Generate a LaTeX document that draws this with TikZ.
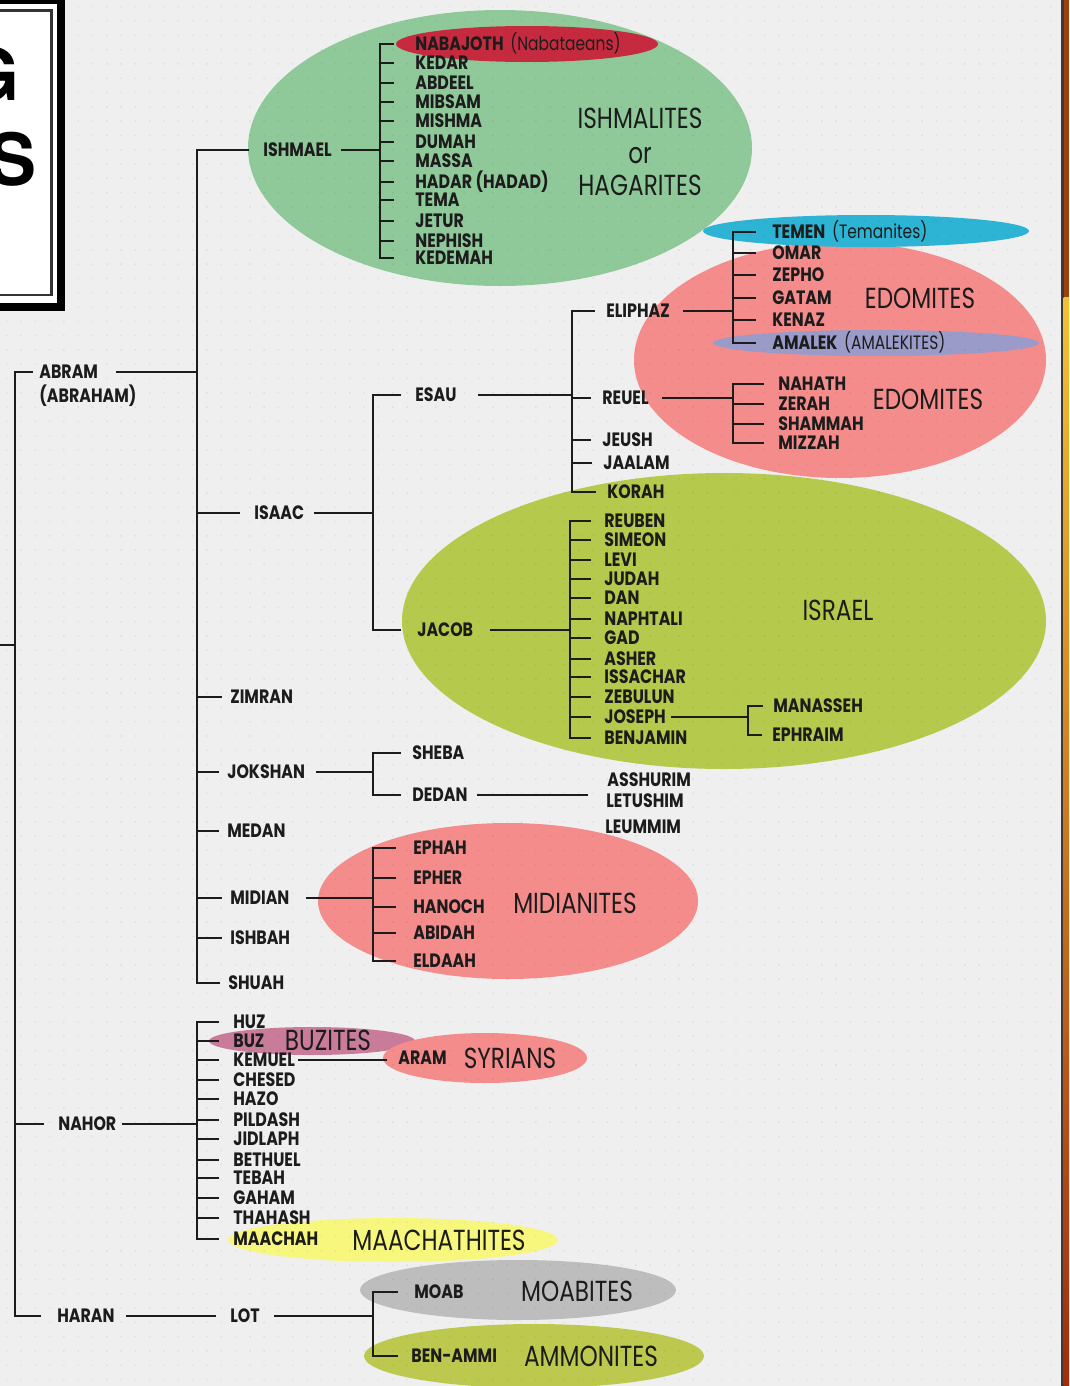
\documentclass[tikz,border=0pt]{standalone}
\usepackage{fontspec}
\newfontfamily\nmfont[FakeStretch=0.82]{Poppins}
\newfontfamily\bgfont[FakeStretch=0.8]{Poppins}
\newfontfamily\ttlfont{TeX Gyre Heros}
\definecolor{bg}{RGB}{239,239,239}
\definecolor{ink}{RGB}{28,28,28}
\definecolor{grnI}{RGB}{143,201,154}
\definecolor{nabred}{RGB}{198,42,63}
\definecolor{cyanT}{RGB}{45,179,211}
\definecolor{pinkE}{RGB}{245,140,140}
\definecolor{purpA}{RGB}{155,155,201}
\definecolor{olvI}{RGB}{181,201,76}
\definecolor{buzc}{RGB}{201,124,153}
\definecolor{yelM}{RGB}{247,247,125}
\definecolor{grayM}{RGB}{189,189,189}
\definecolor{olvA}{RGB}{188,201,78}
\definecolor{edgeD}{RGB}{58,58,58}
\definecolor{brn}{RGB}{156,66,10}
\definecolor{yel}{RGB}{242,194,50}
\definecolor{org}{RGB}{217,130,30}
\definecolor{rdb}{RGB}{163,43,12}
\begin{document}
\begin{tikzpicture}[x=0.02cm,y=-0.02cm,
  ln/.style={line width=1.1pt,draw=ink,line cap=rect},
  nm/.style={font=\nmfont\bfseries\fontsize{11}{13}\selectfont,inner sep=0pt,anchor=west,text height=7.7pt,text depth=0pt,text=ink},
  thin/.style={font=\bgfont\fontsize{11}{13}\selectfont,inner sep=0pt,anchor=west,text height=7.7pt,text depth=0pt,text=ink},
  big/.style={font=\bgfont\fontsize{16.5}{18}\selectfont,inner sep=0pt,text height=11.5pt,text depth=0pt,text=ink},
  ttl/.style={font=\ttlfont\bfseries\fontsize{41}{41}\selectfont,inner sep=0pt,anchor=base east,text=black}]
\useasboundingbox (0,0) rectangle (1069,1386);
\fill[bg] (0,0) rectangle (1069,1386);

% ellipses
\fill[grnI] (500,148) ellipse [x radius=252, y radius=138];
\fill[nabred] (527,44) ellipse [x radius=131, y radius=18];
\fill[olvI] (724,621) ellipse [x radius=322, y radius=148];
\fill[pinkE] (840,360) ellipse [x radius=206, y radius=118];
\fill[cyanT] (866,231) ellipse [x radius=163, y radius=16];
\fill[purpA] (876,343) ellipse [x radius=163, y radius=13];
\fill[pinkE] (508,901) ellipse [x radius=190, y radius=78];
\fill[buzc] (312,1041) ellipse [x radius=103, y radius=14];
\fill[pinkE] (485,1058) ellipse [x radius=102, y radius=25];
\fill[yelM] (393,1240) ellipse [x radius=165, y radius=22];
\fill[grayM] (518,1290) ellipse [x radius=158, y radius=30];
\fill[olvA] (534,1356) ellipse [x radius=170, y radius=32];

% dotted texture (one path per column)
\foreach \i in {0,...,73} {
  \fill[black,opacity=0.07] \foreach \j in {0,...,96} {(6+\i*14.3,6+\j*14.3) rectangle ++(1.4,1.4)};
}

% title box
\fill[white] (-60,-10) rectangle (61,307);
\draw[line width=1.5pt,draw=black!80] (-60,10.5) rectangle (51.5,295);
\draw[line width=4.5pt,draw=black] (-60,0) rectangle (61,307);
\node[ttl] (tg) at (20,100) {G};
\node[ttl] (ts) at (37,185) {S};

% right edge
\fill[edgeD] (1061,0) rectangle (1063.5,1386);
\fill[brn] (1063.5,0) rectangle (1069,297);
\shade[top color=yel,middle color=org,bottom color=rdb] (1063.5,297) rectangle (1069,1386);

% first generations
\node[nm] (abram) at (39,372) {ABRAM};
\node[nm] (abramb) at (39,396) {(ABRAHAM)};
\node[nm] (nahor) at (58,1124) {NAHOR};
\node[nm] (haran) at (57,1316) {HARAN};

\node[nm] (ishmael) at (263,150) {ISHMAEL};
\node[nm] (isaac) at (254,513) {ISAAC};
\node[nm] (zimran) at (230,697) {ZIMRAN};
\node[nm] (jokshan) at (227,772) {JOKSHAN};
\node[nm] (medan) at (227,831) {MEDAN};
\node[nm] (midian) at (230,898) {MIDIAN};
\node[nm] (ishbah) at (230,938) {ISHBAH};
\node[nm] (shuah) at (228,983) {SHUAH};

% Ishmael's sons
\foreach \n/\y/\t in {nabajoth/44/NABAJOTH,kedar/63/KEDAR,abdeel/83/ABDEEL,mibsam/102/MIBSAM,mishma/121/MISHMA,dumah/142/DUMAH,massa/161/MASSA,hadar/182/HADAR (HADAD),tema/200/TEMA,jetur/221/JETUR,nephish/241/NEPHISH,kedemah/258/KEDEMAH}
  \node[nm] (\n) at (415,\y) {\t};
\node[thin] (nabt) at ([xshift=3.4pt]nabajoth.east) {(Nabataeans)};
\node[big] (ishmalites) at (640,118) {ISHMALITES};
\node[big] (orw) at (640,153) {or};
\node[big] (hagarites) at (640,185) {HAGARITES};

% Isaac's line
\node[nm] (esau) at (415,395) {ESAU};
\node[nm] (jacob) at (417,630) {JACOB};
\node[nm] (eliphaz) at (606,311) {ELIPHAZ};
\node[nm] (reuel) at (602,398) {REUEL};
\node[nm] (jeush) at (602,440) {JEUSH};
\node[nm] (jaalam) at (603,463) {JAALAM};
\node[nm] (korah) at (607,492) {KORAH};
\foreach \n/\y/\t in {temen/232/TEMEN,omar/253/OMAR,zepho/275/ZEPHO,gatam/298/GATAM,kenaz/320/KENAZ,amalek/343/AMALEK}
  \node[nm] (\n) at (772,\y) {\t};
\node[thin] (temt) at ([xshift=3.4pt]temen.east) {(Temanites)};
\node[thin] (amat) at ([xshift=3.4pt]amalek.east) {(AMALEKITES)};
\node[big] (edom1) at (920,298) {EDOMITES};
\foreach \n/\y/\t in {nahath/384/NAHATH,zerah/404/ZERAH,shammah/424/SHAMMAH,mizzah/443/MIZZAH}
  \node[nm] (\n) at (778,\y) {\t};
\node[big] (edom2) at (928,399) {EDOMITES};
\foreach \n/\y/\t in {reuben/521/REUBEN,simeon/540/SIMEON,levi/560/LEVI,judah/579/JUDAH,dan/598/DAN,naphtali/619/NAPHTALI,gad/638/GAD,asher/659/ASHER,issachar/677/ISSACHAR,zebulun/697/ZEBULUN,joseph/717/JOSEPH,benjamin/738/BENJAMIN}
  \node[nm] (\n) at (604,\y) {\t};
\node[big] (israel) at (838,610) {ISRAEL};
\node[nm] (manasseh) at (773,706) {MANASSEH};
\node[nm] (ephraim) at (772,735) {EPHRAIM};

% Jokshan, Midian
\node[nm] (sheba) at (412,753) {SHEBA};
\node[nm] (dedan) at (412,795) {DEDAN};
\node[nm] (asshurim) at (607,780) {ASSHURIM};
\node[nm] (letushim) at (606,801) {LETUSHIM};
\node[nm] (leummim) at (605,827) {LEUMMIM};
\foreach \n/\y/\t in {ephah/848/EPHAH,epher/878/EPHER,hanoch/907/HANOCH,abidah/933/ABIDAH,eldaah/961/ELDAAH}
  \node[nm] (\n) at (413,\y) {\t};
\node[big] (midianites) at (575,903) {MIDIANITES};

% Nahor's sons
\foreach \n/\y/\t in {huz/1022/HUZ,buz/1041/BUZ,kemuel/1060/KEMUEL,chesed/1080/CHESED,hazo/1099/HAZO,pildash/1120/PILDASH,jidlaph/1139/JIDLAPH,bethuel/1160/BETHUEL,tebah/1178/TEBAH,gaham/1198/GAHAM,thahash/1218/THAHASH,maachah/1239/MAACHAH}
  \node[nm] (\n) at (233,\y) {\t};
\node[big] (buzites) at (328,1040) {BUZITES};
\node[nm] (aram) at (398,1058) {ARAM};
\node[big] (syrians) at (510,1058) {SYRIANS};
\node[big] (maachathites) at (439,1240) {MAACHATHITES};

% Haran
\node[nm] (lot) at (230,1316) {LOT};
\node[nm] (moab) at (414,1292) {MOAB};
\node[nm] (benammi) at (411,1356) {BEN-AMMI};
\node[big] (moabites) at (577,1291) {MOABITES};
\node[big] (ammonites) at (591,1356) {AMMONITES};

% ---------- connectors ----------
\coordinate (tM) at (15,0);
\coordinate (offl) at (0,645);
\draw[ln] (tM |- abram.west) -- (tM |- haran.west);
\draw[ln] (offl) -- (offl -| tM);
\draw[ln,shorten >=4pt] (tM |- abram.west) -- (abram.west);
\draw[ln,shorten >=8.5pt] (tM |- nahor.west) -- (nahor.west);
\draw[ln,shorten >=9.6pt] (tM |- haran.west) -- (haran.west);

\coordinate (tA) at (197,0);
\draw[ln,shorten <=10.8pt] (abram.east) -- (abram.east -| tA);
\draw[ln] (tA |- ishmael.west) -- (tA |- shuah.west);
\foreach \n in {ishmael,isaac} \draw[ln,shorten >=8.3pt] (tA |- \n.west) -- (\n.west);
\foreach \n in {zimran,jokshan,medan,midian,ishbah,shuah} \draw[ln,shorten >=5.3pt] (tA |- \n.west) -- (\n.west);

\coordinate (tI) at (380,0);
\draw[ln,shorten <=5.5pt] (ishmael.east) -- (ishmael.east -| tI);
\draw[ln] (tI |- nabajoth.west) -- (tI |- kedemah.west);
\foreach \n in {nabajoth,kedar,abdeel,mibsam,mishma,dumah,massa,hadar,tema,jetur,nephish,kedemah}
  \draw[ln,shorten >=12.3pt] (tI |- \n.west) -- (\n.west);

\coordinate (tS) at (373,0);
\draw[ln,shorten <=5.7pt] (isaac.east) -- (isaac.east -| tS);
\draw[ln] (tS |- esau.west) -- (tS |- jacob.west);
\draw[ln,shorten >=8.5pt] (tS |- esau.west) -- (esau.west);
\draw[ln,shorten >=9.5pt] (tS |- jacob.west) -- (jacob.west);

\coordinate (tE) at (572,0);
\draw[ln,shorten <=12.5pt] (esau.east) -- (esau.east -| tE);
\draw[ln] (tE |- eliphaz.west) -- (tE |- korah.west);
\foreach \n in {eliphaz,reuel,jeush,jaalam,korah} \draw[ln,shorten >=7pt] (tE |- \n.west) -- (\n.west);

\coordinate (tEl) at (733,0);
\draw[ln,shorten <=8pt] (eliphaz.east) -- (eliphaz.east -| tEl);
\draw[ln] (tEl |- temen.west) -- (tEl |- amalek.west);
\foreach \n in {temen,omar,zepho,gatam,kenaz,amalek} \draw[ln,shorten >=9.6pt] (tEl |- \n.west) -- (\n.west);

\coordinate (tR) at (733,0);
\draw[ln,shorten <=8pt] (reuel.east) -- (reuel.east -| tR);
\draw[ln] (tR |- nahath.west) -- (tR |- mizzah.west);
\foreach \n in {nahath,zerah,shammah,mizzah} \draw[ln,shorten >=8.5pt] (tR |- \n.west) -- (\n.west);

\coordinate (tJ) at (570,0);
\draw[ln,shorten <=10pt] (jacob.east) -- (jacob.east -| tJ);
\draw[ln] (tJ |- reuben.west) -- (tJ |- benjamin.west);
\foreach \n in {reuben,simeon,levi,judah,dan,naphtali,gad,asher,issachar,zebulun,joseph,benjamin}
  \draw[ln,shorten >=8pt] (tJ |- \n.west) -- (\n.west);

\coordinate (tJo) at (748,0);
\draw[ln,shorten <=3.4pt] (joseph.east) -- (joseph.east -| tJo);
\draw[ln] (tJo |- manasseh.west) -- (tJo |- ephraim.west);
\foreach \n in {manasseh,ephraim} \draw[ln,shorten >=6pt] (tJo |- \n.west) -- (\n.west);

\coordinate (tK) at (373,0);
\draw[ln,shorten <=6.8pt] (jokshan.east) -- (jokshan.east -| tK);
\draw[ln] (tK |- sheba.west) -- (tK |- dedan.west);
\foreach \n in {sheba,dedan} \draw[ln,shorten >=6.8pt] (tK |- \n.west) -- (\n.west);
\draw[ln,shorten <=5.7pt,shorten >=10.8pt] (dedan.east) -- (dedan.east -| letushim.west);

\coordinate (tMi) at (373,0);
\draw[ln,shorten <=9.6pt] (midian.east) -- (midian.east -| tMi);
\draw[ln] (tMi |- ephah.west) -- (tMi |- eldaah.west);
\foreach \n in {ephah,epher,hanoch,abidah,eldaah} \draw[ln,shorten >=10pt] (tMi |- \n.west) -- (\n.west);

\coordinate (tN) at (197,0);
\draw[ln,shorten <=3.4pt] (nahor.east) -- (nahor.east -| tN);
\draw[ln] (tN |- huz.west) -- (tN |- maachah.west);
\foreach \n in {huz,buz,kemuel,chesed,hazo,pildash,jidlaph,bethuel,tebah,gaham,thahash,maachah}
  \draw[ln,shorten >=8.5pt] (tN |- \n.west) -- (\n.west);
\draw[ln,shorten <=2pt,shorten >=7pt] (kemuel.east) -- (kemuel.east -| aram.west);

\draw[ln,shorten <=6.8pt,shorten >=8.5pt] (haran.east) -- (lot.west);
\coordinate (tL) at (373,0);
\draw[ln,shorten <=8.5pt] (lot.east) -- (lot.east -| tL);
\draw[ln] (tL |- moab.west) -- (tL |- benammi.west);
\draw[ln,shorten >=9.6pt] (tL |- moab.west) -- (moab.west);
\draw[ln,shorten >=8pt] (tL |- benammi.west) -- (benammi.west);
\end{tikzpicture}
\end{document}
